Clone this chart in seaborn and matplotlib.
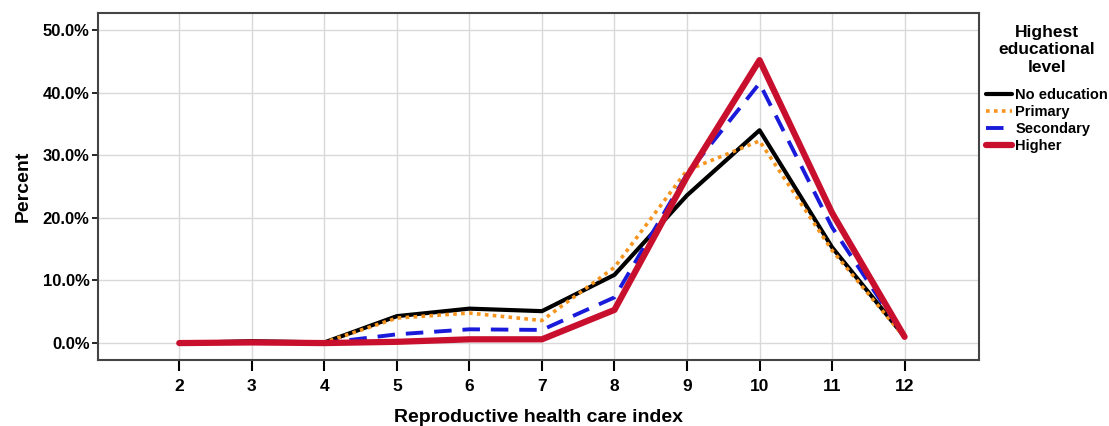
import numpy as np
import pandas as pd
import matplotlib
matplotlib.use("Agg")
import matplotlib.pyplot as plt
import seaborn as sns
from matplotlib.ticker import PercentFormatter

# Data
index = [2, 3, 4, 5, 6, 7, 8, 9, 10, 11, 12]
no_education = [0.0, 0.3, 0.1, 4.3, 5.5, 5.1, 10.9, 23.6, 34.0, 15.3, 1.0]
primary = [0.0, 0.2, 0.1, 4.0, 4.8, 3.6, 12.1, 27.6, 32.3, 14.8, 0.9]
secondary = [0.0, 0.1, 0.0, 1.4, 2.2, 2.1, 7.3, 27.0, 41.5, 18.5, 1.0]
higher = [0.0, 0.1, 0.0, 0.2, 0.6, 0.6, 5.3, 26.6, 45.2, 20.8, 1.0]
levels = ["No education", "Primary", "Secondary", "Higher"]

df = pd.concat([
    pd.DataFrame({"index": index, "pct": v, "level": lv})
    for lv, v in zip(levels, [no_education, primary, secondary, higher])
])

sns.set_style("white")
plt.rcParams["font.family"] = ["Liberation Sans", "DejaVu Sans"]
plt.rcParams["font.weight"] = "bold"
plt.rcParams["text.color"] = "black"
plt.rcParams["axes.labelcolor"] = "black"
plt.rcParams["xtick.color"] = "black"
plt.rcParams["ytick.color"] = "black"

palette = {"No education": "#000000", "Primary": "#F7941D",
           "Secondary": "#1A1ADB", "Higher": "#C8102E"}
sizes = {"No education": 3.0, "Primary": 2.6, "Secondary": 2.8, "Higher": 4.5}
dashes = {"No education": "", "Primary": (1, 1.2),
          "Secondary": (4.5, 2.8), "Higher": ""}

fig = plt.figure(figsize=(11.09, 4.26), dpi=100)
ax = fig.add_axes([0.0884, 0.155, 0.794, 0.814])

sns.lineplot(data=df, x="index", y="pct", hue="level", style="level",
             size="level", hue_order=levels, style_order=levels,
             size_order=levels, palette=palette, sizes=sizes, dashes=dashes,
             legend=False, ax=ax)

ax.set_xlim(0.88, 13.02)
ax.set_ylim(-2.7, 52.7)
ax.set_xticks(index)
ax.set_yticks([0, 10, 20, 30, 40, 50])
ax.yaxis.set_major_formatter(PercentFormatter(decimals=1))
ax.grid(True, color="#d9d9d9", linewidth=1)
for s in ax.spines.values():
    s.set_color("#444444")
    s.set_linewidth(1.5)
ax.tick_params(axis="x", direction="out", length=8, width=1.5,
               labelsize=12.5, pad=6, bottom=True)
ax.tick_params(axis="y", direction="out", length=4, width=1.2,
               labelsize=12, pad=2, left=True)
for lab in ax.get_xticklabels() + ax.get_yticklabels():
    lab.set_fontweight("bold")

ax.set_xlabel("Reproductive health care index", fontsize=14, fontweight="bold")
ax.xaxis.set_label_coords(0.5, -0.14)
ax.set_ylabel("Percent", fontsize=14, fontweight="bold", labelpad=8)

# Legend outside on the right, title drawn as its own text
fig.text(0.944, 0.883, "Highest\neducational\nlevel", ha="center", va="center",
         fontsize=12.5, fontweight="bold", linespacing=1.2)
lines = ax.get_lines()[:4]
leg = ax.legend(lines, levels, loc="upper left", bbox_to_anchor=(0.998, 0.81),
                frameon=False, handlelength=1.8, handletextpad=0.25,
                borderaxespad=0.2, labelspacing=0.22,
                prop={"size": 10.5, "weight": "bold"})

fig.savefig("out.png", dpi=100)
